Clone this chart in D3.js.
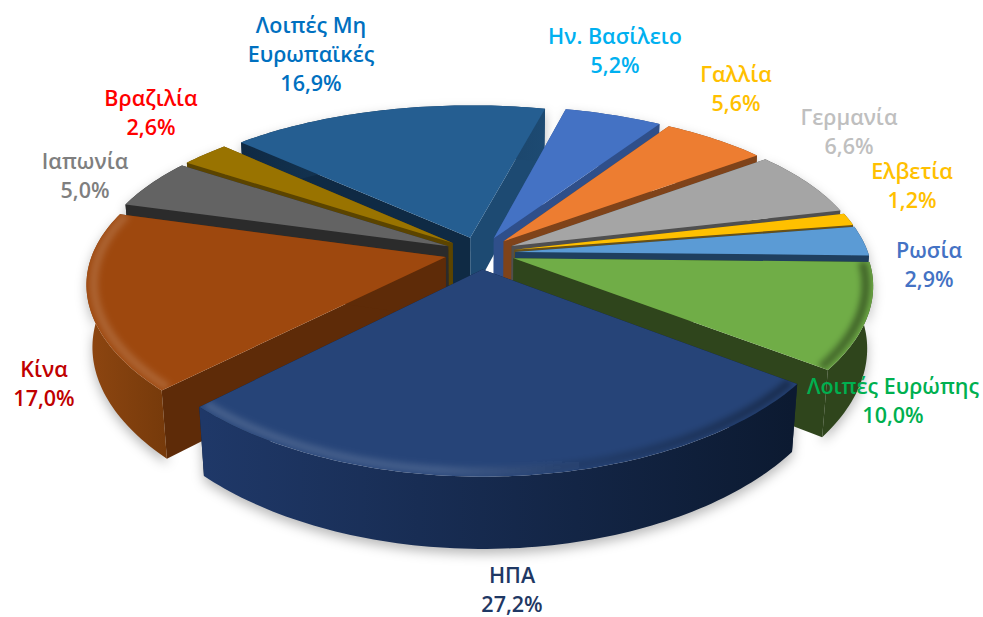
<!DOCTYPE html>
<html>
<head>
<meta charset="utf-8">
<script src="https://cdn.jsdelivr.net/npm/d3@7"></script>
<style>
body { margin: 0; background: #fff; }
text { font-family: "Open Sans", sans-serif; font-weight: 600; font-size: 21.5px; text-anchor: middle; }
</style>
</head>
<body>
<script>
const categories = ["Ην. Βασίλειο", "Γαλλία", "Γερμανία", "Ελβετία", "Ρωσία", "Λοιπές Ευρώπης", "ΗΠΑ", "Κίνα", "Ιαπωνία", "Βραζιλία", "Λοιπές Μη Ευρωπαϊκές"];
const values = [5.2, 5.6, 6.6, 1.2, 2.9, 10.0, 27.2, 17.0, 5.0, 2.6, 16.9];

const topColors = ["#4472c4", "#ed7d31", "#a5a5a5", "#ffc000", "#5b9bd5", "#70ad47", "#264478", "#9e480e", "#636363", "#997300", "#255e91"];
const startWall = ["#2f4f8a", "#7f431a", "#4f4f4f", "#66501a", "#1f3f5f", "#2f451c", "#0e1c36", "#5e2b08", "#2b2b2b", "#5b4400", "#0f2a44"];
const endWall = ["#2f4f8a", "#7f431a", "#4f4f4f", "#66501a", "#1f3f5f", "#2f451c", "#0e1c36", "#5e2b08", "#2b2b2b", "#5b4400", "#1d4a72"];
const arcLeft = ["#2f4f8a", "#7f431a", "#4f4f4f", "#66501a", "#1f3f5f", "#2f451c", "#1f3868", "#8c4510", "#2b2b2b", "#5b4400", "#0f2a44"];
const arcRight = ["#2f4f8a", "#7f431a", "#4f4f4f", "#66501a", "#1f3f5f", "#2f451c", "#0c1a31", "#763a0b", "#2b2b2b", "#5b4400", "#1d4a72"];

const labelLines = [["Ην. Βασίλειο", "5,2%"], ["Γαλλία", "5,6%"], ["Γερμανία", "6,6%"], ["Ελβετία", "1,2%"], ["Ρωσία", "2,9%"], ["Λοιπές Ευρώπης", "10,0%"], ["ΗΠΑ", "27,2%"], ["Κίνα", "17,0%"], ["Ιαπωνία", "5,0%"], ["Βραζιλία", "2,6%"], ["Λοιπές Μη", "Ευρωπαϊκές", "16,9%"]];
const labelColors = ["#00b0f0", "#ffc000", "#bfbfbf", "#ffc000", "#4472c4", "#00b050", "#1f3864", "#c00000", "#7f7f7f", "#ff0000", "#0070c0"];
const labelX = [615, 736, 849, 912, 929, 893, 512, 44, 85, 151, 311];
const labelY = [44, 82, 125, 179, 258, 394, 583, 377, 169, 106, 33];

const width = 983, height = 617;

// projection of the tilted pie
const cx = 480, cy = 253, Rx = 353, Ry = 162, depth = 62;
const persp = 0.185, perspX = 0.15, perspZ = 0.015, explode = 0.1;
const startAngle = 14 * Math.PI / 180;

function project(u, v, z) {
    const wy = 1 - persp * v + perspZ * z;
    const wx = 1 - perspX * v + perspZ * z;
    return [cx + Rx * u / wx, cy + (Ry * v + depth * z) / wy];
}

const pie = d3.pie().sort(null).startAngle(startAngle).endAngle(startAngle + 2 * Math.PI);
const slices = pie(values).map((d, i) => {
    d.i = i;
    d.mid = (d.startAngle + d.endAngle) / 2;
    return d;
});

function point(d, a, r, z) {
    const u = Math.sin(a) * r + explode * Math.sin(d.mid);
    const v = -Math.cos(a) * r - explode * Math.cos(d.mid);
    return project(u, v, z);
}

function arcPoints(d, r, z) {
    const n = Math.max(4, Math.ceil((d.endAngle - d.startAngle) / 0.02));
    return d3.range(n + 1).map(k => point(d, d.startAngle + (d.endAngle - d.startAngle) * k / n, r, z));
}

const line = d3.line();
const closed = pts => line(pts) + "Z";

const topFace = d => closed([point(d, 0, 0, 0), ...arcPoints(d, 1, 0)]);
const arcWall = d => closed([...arcPoints(d, 1, 0), ...arcPoints(d, 1, 1).reverse()]);
const sideWall = (d, a) => closed([point(d, a, 0, 0), point(d, a, 1, 0), point(d, a, 1, 1), point(d, a, 0, 1)]);

const svg = d3.select("body").append("svg")
    .attr("width", width)
    .attr("height", height)
    .style("display", "block");

const defs = svg.append("defs");

defs.append("filter").attr("id", "shadow")
    .attr("x", "-20%").attr("y", "-20%").attr("width", "140%").attr("height", "140%")
    .append("feGaussianBlur").attr("stdDeviation", 6);

defs.append("filter").attr("id", "soft")
    .attr("filterUnits", "userSpaceOnUse")
    .attr("x", 0).attr("y", 0).attr("width", width).attr("height", height)
    .append("feGaussianBlur").attr("stdDeviation", 3);

// bevel along the rim: light from the left, dark on the right
const rim = defs.append("linearGradient").attr("id", "rim")
    .attr("gradientUnits", "userSpaceOnUse")
    .attr("x1", 90).attr("x2", 870).attr("y1", 0).attr("y2", 0);
rim.append("stop").attr("offset", "0%").attr("stop-color", "#fff").attr("stop-opacity", 0.16);
rim.append("stop").attr("offset", "45%").attr("stop-color", "#fff").attr("stop-opacity", 0.14);
rim.append("stop").attr("offset", "65%").attr("stop-color", "#000").attr("stop-opacity", 0.15);
rim.append("stop").attr("offset", "100%").attr("stop-color", "#000").attr("stop-opacity", 0.45);

slices.forEach(d => {
    const xs = arcPoints(d, 1, 1).map(p => p[0]);
    const g = defs.append("linearGradient").attr("id", "wall" + d.i)
        .attr("gradientUnits", "userSpaceOnUse")
        .attr("x1", d3.min(xs)).attr("x2", d3.max(xs)).attr("y1", 0).attr("y2", 0);
    g.append("stop").attr("offset", "0%").attr("stop-color", arcLeft[d.i]);
    g.append("stop").attr("offset", "100%").attr("stop-color", arcRight[d.i]);

    defs.append("clipPath").attr("id", "clip" + d.i)
        .append("path").attr("d", topFace(d));
});

// soft shadow under the whole pie
svg.append("g")
    .attr("filter", "url(#shadow)")
    .attr("transform", "translate(0,5)")
    .attr("fill", "#000")
    .attr("fill-opacity", 0.28)
    .selectAll("path")
    .data(slices)
    .join("path")
    .attr("d", arcWall);

// back slices first, ΗΠΑ last
const order = slices.slice().sort((a, b) => d3.ascending(-Math.cos(a.mid), -Math.cos(b.mid)));

const sliceG = svg.append("g")
    .selectAll("g")
    .data(order)
    .join("g");

sliceG.append("path")
    .attr("d", d => sideWall(d, d.startAngle))
    .attr("fill", d => startWall[d.i]);

sliceG.append("path")
    .attr("d", d => sideWall(d, d.endAngle))
    .attr("fill", d => endWall[d.i]);

sliceG.append("path")
    .attr("d", arcWall)
    .attr("fill", d => `url(#wall${d.i})`);

sliceG.append("path")
    .attr("d", topFace)
    .attr("fill", d => topColors[d.i]);

// only the slices facing the viewer catch the bevel
sliceG.filter(d => Math.cos(d.mid) < 0)
    .append("g")
    .attr("clip-path", d => `url(#clip${d.i})`)
    .append("path")
    .attr("d", d => line(arcPoints(d, 0.98, 0)))
    .attr("fill", "none")
    .attr("stroke", "url(#rim)")
    .attr("stroke-width", 8)
    .attr("filter", "url(#soft)");

const labels = svg.append("g")
    .selectAll("text")
    .data(slices)
    .join("text")
    .attr("fill", d => labelColors[d.i])
    .attr("x", d => labelX[d.i])
    .attr("y", d => labelY[d.i]);

labels.selectAll("tspan")
    .data(d => labelLines[d.i].map(t => ({t, x: labelX[d.i]})))
    .join("tspan")
    .attr("x", d => d.x)
    .attr("dy", (d, k) => k ? 29 : 0)
    .text(d => d.t);
</script>
</body>
</html>
